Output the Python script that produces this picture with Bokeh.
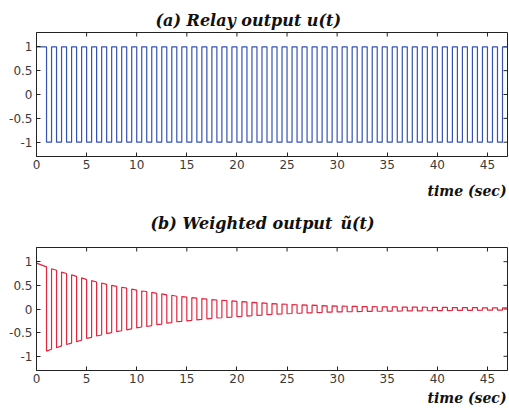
import math
from bokeh.plotting import figure
from bokeh.models import FixedTicker, Title, Range1d
from bokeh.layouts import column
from bokeh.embed import file_html
from bokeh.resources import INLINE

# ---- data ----
# relay switching instants (sec); the relay starts at +1 and flips at each instant
switch_times = [
    1.0, 1.5, 2.0, 2.5, 3.0, 3.5, 4.0, 4.5, 5.0, 5.5, 6.0, 6.5, 7.0, 7.5, 8.0, 8.5,
    9.0, 9.5, 10.0, 10.5, 11.0, 11.5, 12.0, 12.5, 13.0, 13.5, 14.0, 14.5, 15.0, 15.5,
    16.0, 16.5, 17.0, 17.5, 18.0, 18.5, 19.0, 19.5, 20.0, 20.5, 21.0, 21.5, 22.0, 22.5,
    23.0, 23.5, 24.0, 24.5, 25.0, 25.5, 26.0, 26.5, 27.0, 27.5, 28.0, 28.5, 29.0, 29.5,
    30.0, 30.5, 31.0, 31.5, 32.0, 32.5, 33.0, 33.5, 34.0, 34.5, 35.0, 35.5, 36.0, 36.5,
    37.0, 37.5, 38.0, 38.5, 39.0, 39.5, 40.0, 40.5, 41.0, 41.5, 42.0, 42.5, 43.0, 43.5,
    44.0, 44.5, 45.0, 45.5, 46.0, 46.5,
]
t_start = 0.0
t_end = 47.0
relay_start = 1

# weight magnitude at t_start, at every switching instant, and at t_end
weight_amp_start = 0.97
weight_amp_switch = [
    0.89, 0.85, 0.82, 0.78, 0.75, 0.72, 0.69, 0.66, 0.62, 0.60, 0.57, 0.55, 0.52, 0.50,
    0.48, 0.46, 0.44, 0.42, 0.40, 0.38, 0.37, 0.35, 0.33, 0.32, 0.30, 0.29, 0.27, 0.26,
    0.25, 0.24, 0.23, 0.22, 0.21, 0.20, 0.19, 0.185, 0.18, 0.17, 0.16, 0.155, 0.15, 0.14,
    0.135, 0.13, 0.12, 0.115, 0.11, 0.105, 0.10, 0.095, 0.09, 0.087, 0.083, 0.08, 0.075,
    0.072, 0.068, 0.065, 0.062, 0.06, 0.058, 0.056, 0.054, 0.052, 0.05, 0.049, 0.048,
    0.047, 0.045, 0.044, 0.043, 0.042, 0.041, 0.04, 0.039, 0.038, 0.037, 0.036, 0.035,
    0.034, 0.033, 0.032, 0.031, 0.03, 0.029, 0.028, 0.027, 0.026, 0.025, 0.025, 0.024,
    0.024,
]
weight_amp_end = 0.023

x_min, x_max = 0, 47
y_min, y_max = -1.3, 1.3
x_ticks = [0, 5, 10, 15, 20, 25, 30, 35, 40, 45]
y_ticks = [-1, -0.5, 0, 0.5, 1]
y_tick_labels = {-1: "-1", -0.5: "-0.5", 0: "0", 0.5: "0.5", 1: "1"}

title_a = "(a) Relay output u(t)"
title_b = "(b) Weighted output\u2002\u0169(t)"
x_label = "time (sec)"

# ---- build step paths ----
def relay_path():
    xs, ys = [t_start], [relay_start]
    cur = relay_start
    for t in switch_times:
        xs += [t, t]
        ys += [cur, -cur]
        cur = -cur
    xs.append(t_end)
    ys.append(cur)
    return xs, ys

def weighted_path():
    xs, ys = [t_start], [relay_start * weight_amp_start]
    cur = relay_start
    for t, a in zip(switch_times, weight_amp_switch):
        xs += [t, t]
        ys += [cur * a, -cur * a]
        cur = -cur
    xs.append(t_end)
    ys.append(cur * weight_amp_end)
    return xs, ys

SERIF = "DejaVu Serif"
SANS = "DejaVu Sans"
INK = "#222222"

def title_style(t, size):
    t.text_font = SERIF
    t.text_font_style = "bold italic"
    t.text_font_size = size
    t.text_color = "#111111"

def make_fig(height, border_top, border_bottom, label_standoff):
    p = figure(width=509, height=height, output_backend="svg", toolbar_location=None,
               x_range=Range1d(x_min, x_max), y_range=Range1d(y_min, y_max),
               min_border_left=36, min_border_right=2,
               min_border_top=border_top, min_border_bottom=border_bottom)
    p.grid.visible = False
    p.outline_line_color = INK
    p.outline_line_width = 1
    p.background_fill_color = "white"
    p.border_fill_color = "white"

    for ax in (p.xaxis[0], p.yaxis[0]):
        ax.major_tick_in = 4
        ax.major_tick_out = 0
        ax.minor_tick_line_color = None
        ax.axis_line_color = INK
        ax.major_tick_line_color = INK
        ax.major_label_text_font = SANS
        ax.major_label_text_font_size = "12px"
        ax.major_label_text_color = "#3a3a3a"
    p.xaxis[0].ticker = FixedTicker(ticks=x_ticks)
    p.yaxis[0].ticker = FixedTicker(ticks=y_ticks)
    p.yaxis[0].major_label_overrides = y_tick_labels
    p.xaxis[0].major_label_standoff = 3
    p.yaxis[0].major_label_standoff = 4

    # inward ticks on the top and right edges of the box
    p.ray(x=x_ticks, y=[y_max] * len(x_ticks), length=4, length_units="screen",
          angle=-math.pi / 2, line_color=INK, line_width=1)
    p.ray(x=[x_max] * len(y_ticks), y=y_ticks, length=4, length_units="screen",
          angle=math.pi, line_color=INK, line_width=1)

    lab = Title(text=x_label, align="right", standoff=label_standoff, offset=1)
    title_style(lab, "14px")
    p.add_layout(lab, "below")
    return p

# top panel (a)
p1 = make_fig(237, 32, 81, 19)
p1.title.text = title_a
p1.title.align = "left"
p1.title.offset = 119
p1.title.standoff = 6
title_style(p1.title, "16px")
xs, ys = relay_path()
p1.line(xs, ys, line_color="#3552b5", line_width=1.2)

# title of panel (b), stacked under panel (a)'s axis label
tb = Title(text=title_b, align="left", offset=114, standoff=7)
title_style(tb, "16px")
p1.add_layout(tb, "below")

# bottom panel (b)
p2 = make_fig(177, 10, 44, 5)
p2.title = None
xs, ys = weighted_path()
p2.line(xs, ys, line_color="#e2263e", line_width=1.2)

layout = column(p1, p2, spacing=0)
open("out.html", "w").write(file_html(layout, INLINE))
